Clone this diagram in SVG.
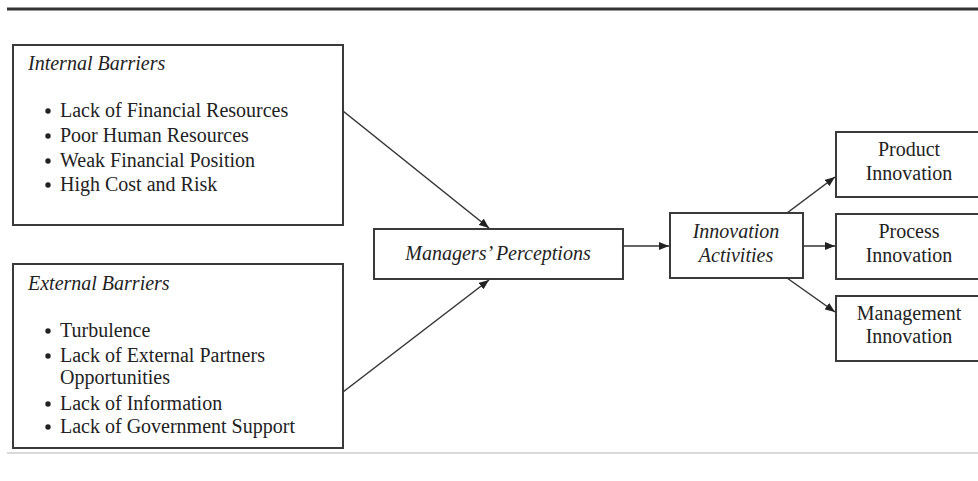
<svg xmlns="http://www.w3.org/2000/svg" width="978" height="481" viewBox="0 0 978 481">
<defs>
<style>
.box{fill:#fff;stroke:#3a3a3a;stroke-width:2}
.t{font-family:"Liberation Serif","Times New Roman",serif;font-size:20px;fill:#222}
.i{font-style:italic}
.c{text-anchor:middle}
.ln{stroke:#333;stroke-width:1.5;fill:none}
.b{fill:#222}
</style>
<marker id="ah" markerWidth="10" markerHeight="8" refX="10" refY="4" orient="auto" markerUnits="userSpaceOnUse" viewBox="0 0 10 8">
<path d="M0,0 L10,4 L0,8 z" fill="#222"/>
</marker>
</defs>
<rect width="978" height="481" fill="#fff"/>
<line x1="7" y1="9" x2="978" y2="9" stroke="#333" stroke-width="3"/>
<line x1="7" y1="453" x2="978" y2="453" stroke="#ccc" stroke-width="1.5"/>

<g id="internal">
<rect class="box" x="13" y="45" width="330" height="180"/>
<text class="t i" x="28" y="70">Internal Barriers</text>
<circle class="b" cx="48" cy="111" r="2.7"/>
<text class="t" x="60" y="117">Lack of Financial Resources</text>
<circle class="b" cx="48" cy="136" r="2.7"/>
<text class="t" x="60" y="142">Poor Human Resources</text>
<circle class="b" cx="48" cy="161" r="2.7"/>
<text class="t" x="60" y="167">Weak Financial Position</text>
<circle class="b" cx="48" cy="185" r="2.7"/>
<text class="t" x="60" y="191">High Cost and Risk</text>
</g>

<g id="external">
<rect class="box" x="13" y="264" width="330" height="184"/>
<text class="t i" x="28" y="290">External Barriers</text>
<circle class="b" cx="48" cy="331" r="2.7"/>
<text class="t" x="60" y="337">Turbulence</text>
<circle class="b" cx="48" cy="356" r="2.7"/>
<text class="t" x="60" y="362">Lack of External Partners</text>
<text class="t" x="60" y="384">Opportunities</text>
<circle class="b" cx="48" cy="404" r="2.7"/>
<text class="t" x="60" y="410">Lack of Information</text>
<circle class="b" cx="48" cy="427" r="2.7"/>
<text class="t" x="60" y="433">Lack of Government Support</text>
</g>

<g id="managers">
<rect class="box" x="374" y="229" width="249" height="50"/>
<text class="t i c" x="498" y="260">Managers’ Perceptions</text>
</g>

<g id="activities">
<rect class="box" x="670" y="213" width="133" height="65"/>
<text class="t i c" x="736" y="238">Innovation</text>
<text class="t i c" x="736" y="262">Activities</text>
</g>

<g id="product">
<rect class="box" x="836" y="132" width="160" height="65"/>
<text class="t c" x="909" y="156">Product</text>
<text class="t c" x="909" y="180">Innovation</text>
</g>

<g id="process">
<rect class="box" x="836" y="214" width="160" height="65"/>
<text class="t c" x="909" y="238">Process</text>
<text class="t c" x="909" y="262">Innovation</text>
</g>

<g id="management">
<rect class="box" x="836" y="296" width="160" height="65"/>
<text class="t c" x="909" y="320">Management</text>
<text class="t c" x="909" y="343">Innovation</text>
</g>

<g id="connectors">
<line class="ln" x1="343" y1="111" x2="489" y2="228" marker-end="url(#ah)"/>
<line class="ln" x1="343" y1="392" x2="489" y2="280" marker-end="url(#ah)"/>
<line class="ln" x1="623" y1="246" x2="669" y2="246" marker-end="url(#ah)"/>
<line class="ln" x1="787" y1="213" x2="835" y2="177" marker-end="url(#ah)"/>
<line class="ln" x1="803" y1="246" x2="835" y2="246" marker-end="url(#ah)"/>
<line class="ln" x1="787" y1="278" x2="835" y2="312" marker-end="url(#ah)"/>
</g>
</svg>
